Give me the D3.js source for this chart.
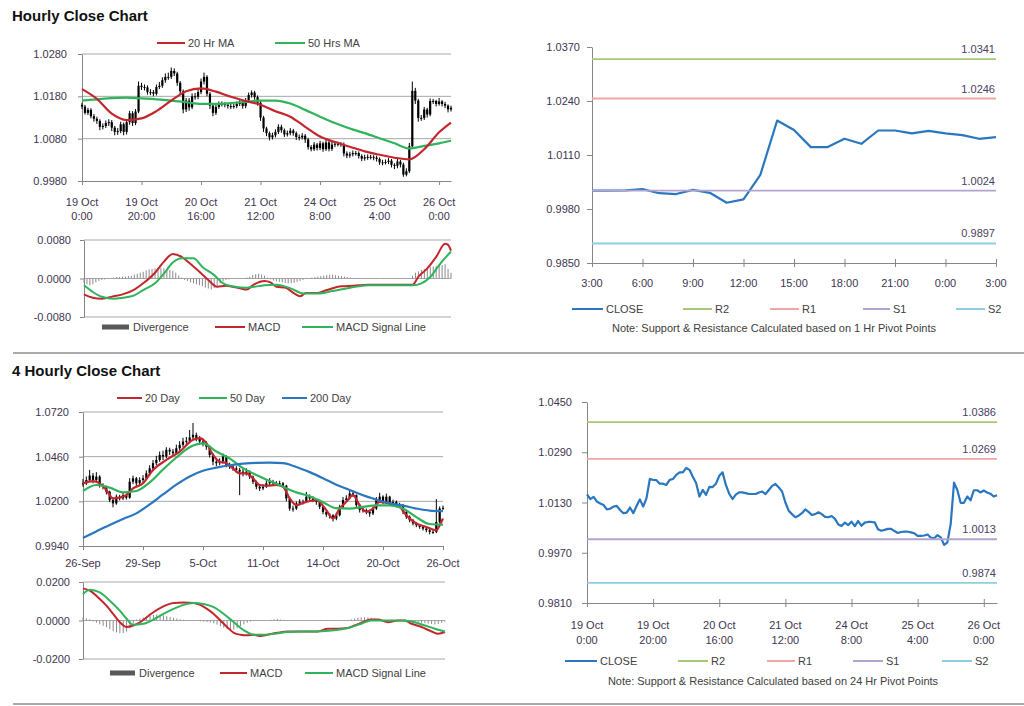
<!DOCTYPE html>
<html><head><meta charset="utf-8">
<script src="https://cdn.jsdelivr.net/npm/d3@7"></script>
<style>
body{margin:0;background:#fff;}
svg text{font-family:"Liberation Sans",Arial,sans-serif;}
</style></head><body>
<svg id="c" width="1024" height="706"></svg>
<script>
// ---------------- DATA ----------------
// Hourly candles (19 Oct 0:00 .. 26 Oct 3:00)
const hourlyOpen0 = 1.0160;
const hourlyClose = [
1.0156,1.0141,1.0148,1.0133,1.0127,1.0122,1.0108,1.0110,1.0117,1.0119,
1.0106,1.0096,1.0098,1.0114,1.0096,1.0119,1.0140,1.0117,1.0144,1.0205,
1.0202,1.0201,1.0190,1.0190,1.0186,1.0202,1.0205,1.0218,1.0226,1.0226,
1.0240,1.0234,1.0212,1.0192,1.0149,1.0170,1.0154,1.0180,1.0179,1.0190,
1.0215,1.0226,1.0186,1.0158,1.0141,1.0155,1.0162,1.0162,1.0160,1.0157,
1.0157,1.0157,1.0162,1.0165,1.0157,1.0170,1.0183,1.0189,1.0178,1.0165,
1.0130,1.0104,1.0093,1.0083,1.0088,1.0096,1.0108,1.0100,1.0090,1.0093,
1.0099,1.0093,1.0084,1.0083,1.0087,1.0078,1.0060,1.0055,1.0066,1.0058,
1.0069,1.0055,1.0071,1.0056,1.0066,1.0068,1.0068,1.0067,1.0045,1.0040,
1.0043,1.0046,1.0046,1.0039,1.0033,1.0036,1.0037,1.0037,1.0035,1.0032,
1.0024,1.0024,1.0025,1.0028,1.0018,1.0016,1.0026,1.0019,0.9995,1.0003,
1.0062,1.0193,1.0170,1.0129,1.0129,1.0149,1.0137,1.0169,1.0169,1.0162,
1.0168,1.0162,1.0158,1.0149,1.0153];
const hourlyHigh = [
1.0165,1.0160,1.0153,1.0152,1.0138,1.0132,1.0126,1.0116,1.0123,1.0126,
1.0124,1.0110,1.0105,1.0120,1.0118,1.0124,1.0146,1.0145,1.0150,1.0215,
1.0212,1.0208,1.0206,1.0197,1.0195,1.0208,1.0214,1.0225,1.0234,1.0236,
1.0248,1.0246,1.0238,1.0216,1.0196,1.0176,1.0176,1.0187,1.0188,1.0198,
1.0222,1.0236,1.0230,1.0190,1.0162,1.0160,1.0168,1.0168,1.0166,1.0164,
1.0163,1.0162,1.0168,1.0171,1.0169,1.0176,1.0189,1.0194,1.0193,1.0182,
1.0169,1.0134,1.0108,1.0097,1.0094,1.0102,1.0114,1.0113,1.0104,1.0099,
1.0105,1.0103,1.0097,1.0090,1.0093,1.0091,1.0082,1.0065,1.0072,1.0070,
1.0075,1.0073,1.0077,1.0075,1.0072,1.0074,1.0073,1.0072,1.0071,1.0050,
1.0049,1.0052,1.0051,1.0050,1.0043,1.0042,1.0043,1.0042,1.0041,1.0040,
1.0036,1.0030,1.0031,1.0034,1.0032,1.0022,1.0032,1.0030,1.0023,1.0010,
1.0070,1.0215,1.0200,1.0174,1.0136,1.0155,1.0153,1.0175,1.0174,1.0172,
1.0176,1.0171,1.0167,1.0161,1.0158];
const hourlyLow = [
1.0150,1.0137,1.0136,1.0128,1.0120,1.0115,1.0100,1.0102,1.0105,1.0110,
1.0098,1.0088,1.0089,1.0093,1.0088,1.0090,1.0113,1.0110,1.0112,1.0140,
1.0195,1.0194,1.0184,1.0183,1.0180,1.0182,1.0197,1.0200,1.0212,1.0219,
1.0221,1.0228,1.0205,1.0185,1.0140,1.0143,1.0146,1.0150,1.0172,1.0173,
1.0185,1.0208,1.0180,1.0150,1.0133,1.0136,1.0150,1.0156,1.0154,1.0151,
1.0150,1.0151,1.0152,1.0157,1.0151,1.0152,1.0165,1.0177,1.0172,1.0158,
1.0122,1.0096,1.0086,1.0076,1.0078,1.0083,1.0091,1.0094,1.0084,1.0085,
1.0088,1.0087,1.0077,1.0076,1.0078,1.0070,1.0054,1.0050,1.0051,1.0052,
1.0053,1.0049,1.0051,1.0050,1.0051,1.0060,1.0062,1.0061,1.0038,1.0034,
1.0035,1.0038,1.0040,1.0033,1.0027,1.0028,1.0030,1.0031,1.0029,1.0026,
1.0018,1.0017,1.0019,1.0020,1.0012,1.0008,1.0010,1.0012,0.9990,0.9991,
0.9999,1.0058,1.0162,1.0120,1.0122,1.0124,1.0130,1.0133,1.0162,1.0156,
1.0158,1.0156,1.0152,1.0142,1.0144];
const hourlyMaIdx = [0,5,10,15,20,25,30,35,40,45,50,55,60,65,70,75,80,85,90,95,100,105,110,115,120,124];
const hourlyMa20 = [1.0197,1.0174,1.0139,1.0124,1.0128,1.0145,1.0170,1.0192,1.0199,1.0191,1.0179,1.0169,1.0160,1.0145,1.0132,1.0108,1.0085,1.0072,1.0061,1.0050,1.0042,1.0035,1.0031,1.0055,1.0095,1.0118];
const hourlyMa50 = [1.0170,1.0173,1.0176,1.0177,1.0175,1.0173,1.0170,1.0166,1.0162,1.0162,1.0164,1.0167,1.0170,1.0170,1.0163,1.0148,1.0132,1.0117,1.0104,1.0093,1.0081,1.0069,1.0057,1.0063,1.0069,1.0075];
const hourlyMacdIdx = [0,3,6,10,13,17,20,24,27,30,33,36,39,42,45,48,53,55,57,61,63,65,68,71,73,75,79,82,87,91,96,100,107,111,113,116,119,122,123,124];
const hourlyMacd = [-0.0033,-0.0040,-0.0042,-0.0037,-0.0033,-0.0023,-0.0010,0.0012,0.0035,0.0051,0.0045,0.0030,0.0014,-0.0003,-0.0017,-0.0015,-0.0021,-0.0023,-0.0014,-0.0005,-0.0008,-0.0017,-0.0019,-0.0031,-0.0037,-0.0030,-0.0030,-0.0024,-0.0016,-0.0015,-0.0013,-0.0013,-0.0013,-0.0013,0.0004,0.0021,0.0045,0.0072,0.0070,0.0058];
const hourlySignalIdx = [0,3,6,10,13,17,20,24,27,30,33,37,40,44,47,51,55,61,65,70,74,79,84,90,96,111,114,117,120,124];
const hourlySignal = [-0.0014,-0.0028,-0.0038,-0.0042,-0.0040,-0.0035,-0.0024,-0.0010,0.0010,0.0033,0.0042,0.0042,0.0024,0.0007,-0.0010,-0.0017,-0.0019,-0.0014,-0.0013,-0.0021,-0.0031,-0.0031,-0.0026,-0.0019,-0.0014,-0.0014,-0.0010,0.0003,0.0028,0.0056];
const hourlyDivergence = [
-0.0010,-0.0012,-0.0014,-0.0012,-0.0008,-0.0005,-0.0003,-0.0002,-0.0001,0.0000,
0.0002,0.0003,0.0003,0.0004,0.0004,0.0005,0.0006,0.0008,0.0010,0.0012,
0.0014,0.0017,0.0019,0.0020,0.0021,0.0022,0.0022,0.0021,0.0020,0.0018,
0.0016,0.0012,0.0006,0.0002,-0.0003,-0.0005,-0.0008,-0.0010,-0.0012,-0.0014,
-0.0016,-0.0019,-0.0021,-0.0023,-0.0020,-0.0015,-0.0010,-0.0006,-0.0003,-0.0002,
-0.0001,-0.0001,0.0000,0.0001,0.0001,0.0002,0.0004,0.0007,0.0009,0.0010,
0.0008,0.0006,0.0002,-0.0002,-0.0004,-0.0006,-0.0007,-0.0008,-0.0009,-0.0010,
-0.0010,-0.0009,-0.0007,-0.0005,-0.0003,-0.0001,0.0001,0.0002,0.0003,0.0004,
0.0005,0.0006,0.0007,0.0008,0.0008,0.0007,0.0006,0.0005,0.0004,0.0003,
0.0002,0.0001,0.0001,0.0001,0.0000,0.0001,0.0001,0.0000,0.0001,0.0001,
0.0000,0.0001,0.0000,0.0001,0.0000,0.0001,0.0001,0.0000,0.0001,0.0001,
0.0001,0.0006,0.0012,0.0015,0.0018,0.0020,0.0022,0.0024,0.0025,0.0026,
0.0027,0.0028,0.0030,0.0020,0.0012];
const hourlyTickIdx = [0,20,40,60,80,100,120];
const hourlyTickDay = ["19 Oct","19 Oct","20 Oct","21 Oct","24 Oct","25 Oct","26 Oct"];
const hourlyTickTime = ["0:00","20:00","16:00","12:00","8:00","4:00","0:00"];

// Last 24 hours (1 Hr pivots) — close is the tail of hourlyClose
const lastDayStart = 100;
const lastDayTickIdx = [0,3,6,9,12,15,18,21,24];
const lastDayTickLabels = ["3:00","6:00","9:00","12:00","15:00","18:00","21:00","0:00","3:00"];
const pivot1hNames = ["R2","R1","S1","S2"];
const pivot1hValues = [1.0341,1.0246,1.0024,0.9897];
const pivot24hValues = [1.0386,1.0269,1.0013,0.9874];
const pivotColors = ["#a6c877","#eea7a7","#b3a3cf","#8ccfdf"];

// 4-hourly candles (26 Sep .. 26 Oct)
const fourOpen0 = 1.0300;
const fourClose = [
1.0305,1.0324,1.0350,1.0324,1.0344,1.0295,1.0285,1.0256,1.0207,1.0188,
1.0227,1.0217,1.0236,1.0221,1.0314,1.0334,1.0305,1.0324,1.0334,1.0363,
1.0392,1.0422,1.0441,1.0470,1.0461,1.0500,1.0490,1.0480,1.0509,1.0529,
1.0548,1.0552,1.0572,1.0587,1.0568,1.0548,1.0539,1.0519,1.0470,1.0431,
1.0422,1.0431,1.0461,1.0412,1.0402,1.0392,1.0383,1.0373,1.0363,1.0373,
1.0344,1.0314,1.0285,1.0275,1.0285,1.0305,1.0314,1.0305,1.0305,1.0305,
1.0291,1.0217,1.0158,1.0158,1.0188,1.0197,1.0197,1.0227,1.0217,1.0207,
1.0197,1.0168,1.0139,1.0123,1.0119,1.0100,1.0119,1.0168,1.0207,1.0217,
1.0246,1.0236,1.0178,1.0149,1.0149,1.0139,1.0129,1.0158,1.0207,1.0227,
1.0197,1.0227,1.0188,1.0197,1.0178,1.0178,1.0139,1.0110,1.0090,1.0071,
1.0061,1.0051,1.0041,1.0032,1.0022,1.0022,1.0080,1.0158,1.0162];
const fourHigh = [
1.0330,1.0345,1.0383,1.0365,1.0370,1.0352,1.0305,1.0292,1.0262,1.0215,
1.0240,1.0238,1.0250,1.0245,1.0335,1.0350,1.0342,1.0340,1.0352,1.0380,
1.0410,1.0440,1.0465,1.0490,1.0495,1.0515,1.0512,1.0505,1.0530,1.0550,
1.0570,1.0575,1.0615,1.0656,1.0600,1.0580,1.0565,1.0550,1.0525,1.0478,
1.0445,1.0450,1.0478,1.0468,1.0425,1.0415,1.0405,1.0395,1.0390,1.0392,
1.0380,1.0350,1.0320,1.0295,1.0300,1.0320,1.0335,1.0325,1.0318,1.0320,
1.0312,1.0296,1.0225,1.0175,1.0200,1.0212,1.0210,1.0255,1.0240,1.0228,
1.0215,1.0202,1.0175,1.0148,1.0132,1.0125,1.0130,1.0180,1.0225,1.0235,
1.0262,1.0262,1.0240,1.0185,1.0165,1.0158,1.0150,1.0170,1.0225,1.0250,
1.0235,1.0245,1.0232,1.0210,1.0205,1.0192,1.0185,1.0145,1.0118,1.0098,
1.0080,1.0068,1.0060,1.0050,1.0040,1.0035,1.0213,1.0170,1.0175];
const fourLow = [
1.0285,1.0295,1.0315,1.0305,1.0315,1.0280,1.0270,1.0240,1.0195,1.0165,
1.0180,1.0205,1.0208,1.0210,1.0215,1.0300,1.0290,1.0295,1.0310,1.0325,
1.0350,1.0380,1.0410,1.0430,1.0440,1.0450,1.0470,1.0465,1.0470,1.0495,
1.0515,1.0530,1.0540,1.0555,1.0550,1.0530,1.0520,1.0500,1.0455,1.0410,
1.0405,1.0410,1.0420,1.0398,1.0388,1.0378,1.0365,1.0236,1.0345,1.0350,
1.0330,1.0300,1.0270,1.0260,1.0265,1.0278,1.0295,1.0290,1.0290,1.0292,
1.0278,1.0200,1.0145,1.0140,1.0150,1.0178,1.0182,1.0190,1.0205,1.0195,
1.0180,1.0155,1.0125,1.0110,1.0100,1.0083,1.0090,1.0112,1.0160,1.0198,
1.0210,1.0225,1.0165,1.0135,1.0135,1.0125,1.0110,1.0120,1.0150,1.0200,
1.0185,1.0190,1.0175,1.0178,1.0165,1.0165,1.0125,1.0098,1.0078,1.0060,
1.0050,1.0040,1.0030,1.0020,1.0008,1.0010,1.0015,1.0070,1.0150];
const fourMa20Idx = [0,3,5,7,9,11,13,15,18,21,25,29,33,35,37,39,41,43,45,47,49,51,53,55,58,60,62,64,67,70,73,75,77,79,81,83,85,87,89,92,95,97,100,103,106,107,108];
const fourMa20 = [1.0305,1.0318,1.0305,1.0266,1.0217,1.0222,1.0236,1.0275,1.0305,1.0383,1.0441,1.0490,1.0558,1.0568,1.0539,1.0470,1.0431,1.0422,1.0392,1.0363,1.0363,1.0334,1.0295,1.0291,1.0295,1.0285,1.0217,1.0178,1.0197,1.0207,1.0149,1.0100,1.0158,1.0197,1.0236,1.0178,1.0139,1.0158,1.0197,1.0188,1.0168,1.0119,1.0071,1.0051,1.0032,1.0061,1.0100];
const fourMaIdx = [0,4,8,12,16,20,24,28,32,36,40,44,48,52,56,60,64,68,72,76,80,84,88,92,96,100,104,108];
const fourMa50 = [1.0260,1.0295,1.0280,1.0252,1.0260,1.0310,1.0385,1.0455,1.0515,1.0537,1.0490,1.0450,1.0393,1.0353,1.0318,1.0285,1.0252,1.0230,1.0195,1.0160,1.0158,1.0168,1.0176,1.0176,1.0158,1.0108,1.0068,1.0065];
const fourMa200 = [0.9987,1.0025,1.0062,1.0097,1.0130,1.0182,1.0240,1.0297,1.0345,1.0378,1.0396,1.0410,1.0419,1.0424,1.0425,1.0422,1.0400,1.0370,1.0335,1.0297,1.0266,1.0235,1.0210,1.0188,1.0175,1.0158,1.0146,1.0143];
const fourMacdIdx = [0,2,5,7,9,11,13,15,17,19,21,23,25,27,30,33,35,37,39,41,43,45,47,49,51,53,55,58,61,64,67,70,73,76,79,81,84,86,88,91,94,96,98,101,104,106,108];
const fourMacd = [0.0167,0.0155,0.0112,0.0077,0.0034,-0.0009,-0.0034,-0.0026,-0.0009,0.0017,0.0043,0.0064,0.0081,0.0091,0.0094,0.0091,0.0081,0.0060,0.0034,0.0000,-0.0034,-0.0064,-0.0074,-0.0077,-0.0074,-0.0081,-0.0074,-0.0064,-0.0057,-0.0057,-0.0057,-0.0057,-0.0043,-0.0043,-0.0039,-0.0026,-0.0005,0.0005,0.0005,-0.0009,0.0000,0.0000,-0.0017,-0.0034,-0.0057,-0.0069,-0.0060];
const fourSignalIdx = [0,2,5,8,11,13,15,18,21,24,27,30,33,36,39,42,45,48,51,54,57,61,65,70,75,79,83,86,90,95,98,102,105,108];
const fourSignal = [0.0137,0.0160,0.0146,0.0103,0.0051,0.0009,-0.0022,-0.0017,0.0005,0.0034,0.0060,0.0081,0.0091,0.0086,0.0069,0.0034,-0.0009,-0.0051,-0.0074,-0.0074,-0.0069,-0.0060,-0.0057,-0.0057,-0.0051,-0.0039,-0.0017,0.0000,0.0000,0.0000,-0.0005,-0.0026,-0.0043,-0.0057];
const fourDivergence = [
0.0015,0.0012,0.0006,-0.0005,-0.0012,-0.0020,-0.0028,-0.0035,-0.0045,-0.0055,
-0.0062,-0.0066,-0.0065,-0.0058,-0.0040,-0.0015,0.0005,0.0010,0.0015,0.0020,
0.0026,0.0030,0.0032,0.0030,0.0027,0.0022,0.0018,0.0014,0.0010,0.0006,
0.0004,0.0002,0.0001,0.0000,-0.0002,-0.0004,-0.0006,-0.0008,-0.0010,-0.0015,
-0.0022,-0.0030,-0.0038,-0.0045,-0.0050,-0.0048,-0.0040,-0.0030,-0.0020,-0.0012,
-0.0006,-0.0003,-0.0002,-0.0003,-0.0002,0.0000,0.0003,0.0006,0.0008,0.0005,
0.0003,0.0001,0.0000,-0.0001,0.0000,-0.0001,0.0000,0.0001,0.0000,0.0001,
0.0000,-0.0002,0.0002,0.0003,0.0001,0.0002,0.0000,-0.0002,0.0001,0.0003,
0.0006,0.0010,0.0014,0.0016,0.0017,0.0016,0.0014,0.0010,0.0006,0.0003,
0.0001,-0.0002,-0.0003,0.0000,0.0001,0.0000,-0.0002,-0.0004,-0.0006,-0.0008,
-0.0010,-0.0012,-0.0014,-0.0016,-0.0018,-0.0020,-0.0018,-0.0012,-0.0006];
const fourTickIdx = [0,18,36,54,72,90,108];
const fourTickLabels = ["26-Sep","29-Sep","5-Oct","11-Oct","14-Oct","20-Oct","26-Oct"];

// ---------------- DRAWING ----------------
const svg = d3.select("#c");
const TXT = "#3e3550", AX = "#868686", GRID = "#a8a8a8";
const RED = "#c4262e", GREEN = "#2fb35b", BLUE = "#2a77c0";
const fmt = d3.formatLocale({decimal:".",thousands:",",grouping:[3],currency:["",""],minus:"-"}).format(".4f");

function txt(x, y, s, o = {}) {
  return svg.append("text").attr("x", x).attr("y", y).text(s)
    .attr("font-size", o.size || 11).attr("fill", o.fill || TXT)
    .attr("text-anchor", o.anchor || "start").attr("font-weight", o.weight || "normal");
}
function legLine(x1, x2, y, color, label) {
  svg.append("line").attr("x1", x1).attr("x2", x2).attr("y1", y).attr("y2", y)
    .attr("stroke", color).attr("stroke-width", 2);
  txt(x2 + 3, y + 4, label, {fill: "#404040"});
}
function legBox(x1, x2, y, label) {
  svg.append("rect").attr("x", x1).attr("y", y - 2.5).attr("width", x2 - x1).attr("height", 5).attr("fill", "#595959");
  txt(x2 + 4, y + 4, label, {fill: "#404040"});
}
function styleAxis(g) {
  g.select(".domain").attr("stroke", AX);
  g.selectAll(".tick line").attr("stroke", AX);
  g.selectAll(".tick text").attr("fill", TXT).attr("font-size", 11)
    .attr("font-family", '"Liberation Sans",Arial,sans-serif');
}
function leftAxis(y, x0, ticks, size, pad) {
  const g = svg.append("g").attr("transform", `translate(${x0},0)`)
    .call(d3.axisLeft(y).tickValues(ticks).tickFormat(fmt).tickSize(size).tickSizeOuter(0).tickPadding(pad));
  styleAxis(g);
}
function bottomAxis(x, yb, ticks, cross) {
  const g = svg.append("g").attr("transform", `translate(0,${yb})`)
    .call(d3.axisBottom(x).tickValues(ticks).tickFormat("").tickSize(4).tickSizeOuter(0));
  styleAxis(g);
  if (cross) g.selectAll(".tick line").attr("y1", -4).attr("y2", 4);
}
function smooth(x, y) {
  return d3.line().x(d => x(d[0])).y(d => y(d[1])).curve(d3.curveMonotoneX);
}

function pricePanel(c) {
  const x = d3.scaleLinear().domain([0, c.close.length - 1]).range([c.x0, c.x1]);
  const y = d3.scaleLinear().domain(c.yDomain).range([c.yBot, c.yTop]);
  svg.append("g").selectAll("line").data(c.yTicks.slice(1)).join("line")
    .attr("x1", c.x0).attr("x2", c.x1).attr("y1", d => y(d)).attr("y2", d => y(d)).attr("stroke", GRID);
  leftAxis(y, c.x0, c.yTicks, 4, c.pad);
  bottomAxis(x, c.yBot, c.tickIdx, false);
  const bars = c.close.map((v, i) => ({i, o: i ? c.close[i - 1] : c.open0, c: v, h: c.high[i], l: c.low[i]}));
  const g = svg.append("g");
  g.selectAll("line").data(bars).join("line")
    .attr("x1", d => x(d.i)).attr("x2", d => x(d.i)).attr("y1", d => y(d.h)).attr("y2", d => y(d.l))
    .attr("stroke", "#000").attr("stroke-width", 1);
  g.selectAll("rect").data(bars).join("rect")
    .attr("x", d => x(d.i) - 1.1).attr("width", 2.2)
    .attr("y", d => y(Math.max(d.o, d.c)))
    .attr("height", d => Math.max(1, Math.abs(y(d.o) - y(d.c))))
    .attr("fill", "#000");
  c.mas.forEach(m => {
    svg.append("path").datum(m.idx.map((k, j) => [k, m.vals[j]]))
      .attr("d", smooth(x, y)).attr("fill", "none").attr("stroke", m.color).attr("stroke-width", 2.2);
  });
  return x;
}

function macdPanel(c) {
  const x = d3.scaleLinear().domain([0, c.last]).range([c.x0, c.x1]);
  const y = d3.scaleLinear().domain([-c.m, c.m]).range([c.yBot, c.yTop]);
  svg.append("g").selectAll("line").data([-c.m, 0, c.m]).join("line")
    .attr("x1", c.x0).attr("x2", c.x1).attr("y1", d => y(d)).attr("y2", d => y(d)).attr("stroke", GRID);
  leftAxis(y, c.x0, [-c.m, 0, c.m], 4, c.pad);
  svg.append("g").selectAll("line").data(c.div).join("line")
    .attr("x1", (d, i) => x(i)).attr("x2", (d, i) => x(i)).attr("y1", y(0)).attr("y2", d => y(d))
    .attr("stroke", "#8a8a8a").attr("stroke-width", 1);
  svg.append("path").datum(c.macdIdx.map((k, j) => [k, c.macd[j]]))
    .attr("d", smooth(x, y)).attr("fill", "none").attr("stroke", RED).attr("stroke-width", 2);
  svg.append("path").datum(c.sigIdx.map((k, j) => [k, c.sig[j]]))
    .attr("d", smooth(x, y)).attr("fill", "none").attr("stroke", GREEN).attr("stroke-width", 2);
}

function pivotPanel(c) {
  const x = d3.scaleLinear().domain([0, c.close.length - 1]).range([c.x0, c.x1]);
  const y = d3.scaleLinear().domain(c.yDomain).range([c.yBot, c.yTop]);
  leftAxis(y, c.x0, c.yTicks, 5, c.pad);
  bottomAxis(x, c.yBot, c.tickIdx, true);
  svg.append("path").datum(c.close.map((v, i) => [i, v]))
    .attr("d", d3.line().x(d => x(d[0])).y(d => y(d[1])))
    .attr("fill", "none").attr("stroke", BLUE).attr("stroke-width", 2.2).attr("stroke-linejoin", "round");
  c.levels.forEach((v, k) => {
    svg.append("line").attr("x1", c.x0).attr("x2", c.x1).attr("y1", y(v)).attr("y2", y(v))
      .attr("stroke", pivotColors[k]).attr("stroke-width", 1.8);
    txt(c.x1 - 1, y(v) - 6, fmt(v), {anchor: "end", fill: "#4a4060"});
  });
  return x;
}

// Titles and separators
txt(12, 21, "Hourly Close Chart", {size: 15, weight: "bold", fill: "#111"});
txt(12, 376, "4 Hourly Close Chart", {size: 15, weight: "bold", fill: "#111"});
[353, 704].forEach(yy => svg.append("line").attr("x1", 13).attr("x2", 1024).attr("y1", yy).attr("y2", yy)
  .attr("stroke", "#8e8e8e").attr("stroke-width", 1.6));

// Panel A: hourly candles
const xA = pricePanel({x0: 82, x1: 451, yTop: 54, yBot: 181, yDomain: [0.9980, 1.0280],
  yTicks: [0.9980, 1.0080, 1.0180, 1.0280], pad: 11, tickIdx: hourlyTickIdx,
  close: hourlyClose, high: hourlyHigh, low: hourlyLow, open0: hourlyOpen0,
  mas: [{idx: hourlyMaIdx, vals: hourlyMa50, color: GREEN}, {idx: hourlyMaIdx, vals: hourlyMa20, color: RED}]});
hourlyTickIdx.forEach((k, j) => {
  const t = txt(xA(k), 206, hourlyTickDay[j], {anchor: "middle"});
  txt(xA(k), 220, hourlyTickTime[j], {anchor: "middle"});
});
legLine(157, 185, 43, RED, "20 Hr MA");
legLine(275, 305, 43, GREEN, "50 Hrs MA");

macdPanel({x0: 84, x1: 451, yTop: 240, yBot: 317, m: 0.008, pad: 9, last: hourlyClose.length - 1,
  div: hourlyDivergence, macdIdx: hourlyMacdIdx, macd: hourlyMacd, sigIdx: hourlySignalIdx, sig: hourlySignal});
legBox(102, 129, 327, "Divergence");
legLine(215, 245, 327, RED, "MACD");
legLine(302, 333, 327, GREEN, "MACD Signal Line");

// Panel B: last 24 hours with 1 Hr pivots
const lastDay = hourlyClose.slice(lastDayStart);
const xB = pivotPanel({x0: 592, x1: 996, yTop: 47, yBot: 263, yDomain: [0.9850, 1.0370],
  yTicks: [0.9850, 0.9980, 1.0110, 1.0240, 1.0370], pad: 7, tickIdx: lastDayTickIdx,
  close: lastDay, levels: pivot1hValues});
lastDayTickIdx.forEach((k, j) => txt(xB(k), 287, lastDayTickLabels[j], {anchor: "middle"}));
legLine(572, 603, 309, BLUE, "CLOSE");
pivot1hNames.forEach((n, k) => {
  const xs = [[683, 712], [770, 799], [863, 890], [956, 985]][k];
  legLine(xs[0], xs[1], 309, pivotColors[k], n);
});
txt(774, 332, "Note: Support & Resistance Calculated based on 1 Hr Pivot Points", {anchor: "middle", fill: "#404040"});

// Panel C: 4 hourly candles
const xC = pricePanel({x0: 83, x1: 443, yTop: 412, yBot: 546, yDomain: [0.9940, 1.0720],
  yTicks: [0.9940, 1.0200, 1.0460, 1.0720], pad: 10, tickIdx: fourTickIdx,
  close: fourClose, high: fourHigh, low: fourLow, open0: fourOpen0,
  mas: [{idx: fourMa20Idx, vals: fourMa20, color: RED}, {idx: fourMaIdx, vals: fourMa50, color: GREEN},
        {idx: fourMaIdx, vals: fourMa200, color: BLUE}]});
fourTickIdx.forEach((k, j) => txt(xC(k), 567, fourTickLabels[j], {anchor: "middle"}));
legLine(117, 142, 398, RED, "20 Day");
legLine(199, 227, 398, GREEN, "50 Day");
legLine(282, 307, 398, BLUE, "200 Day");

macdPanel({x0: 83, x1: 445, yTop: 582, yBot: 659, m: 0.02, pad: 9, last: fourClose.length - 1,
  div: fourDivergence, macdIdx: fourMacdIdx, macd: fourMacd, sigIdx: fourSignalIdx, sig: fourSignal});
legBox(110, 135, 673, "Divergence");
legLine(220, 247, 673, RED, "MACD");
legLine(305, 333, 673, GREEN, "MACD Signal Line");

// Panel D: hourly close with 24 Hr pivots
const xD = pivotPanel({x0: 587, x1: 997, yTop: 402, yBot: 603, yDomain: [0.9810, 1.0450],
  yTicks: [0.9810, 0.9970, 1.0130, 1.0290, 1.0450], pad: 10, tickIdx: hourlyTickIdx,
  close: hourlyClose, levels: pivot24hValues});
hourlyTickIdx.forEach((k, j) => {
  txt(xD(k), 629, hourlyTickDay[j], {anchor: "middle"});
  txt(xD(k), 644, hourlyTickTime[j], {anchor: "middle"});
});
legLine(565, 597, 661, BLUE, "CLOSE");
pivot1hNames.forEach((n, k) => {
  const xs = [[678, 708], [767, 795], [853, 883], [942, 972]][k];
  legLine(xs[0], xs[1], 661, pivotColors[k], n);
});
txt(773, 685, "Note: Support & Resistance Calculated based on 24 Hr Pivot Points", {anchor: "middle", fill: "#404040"});
</script>
</body></html>
